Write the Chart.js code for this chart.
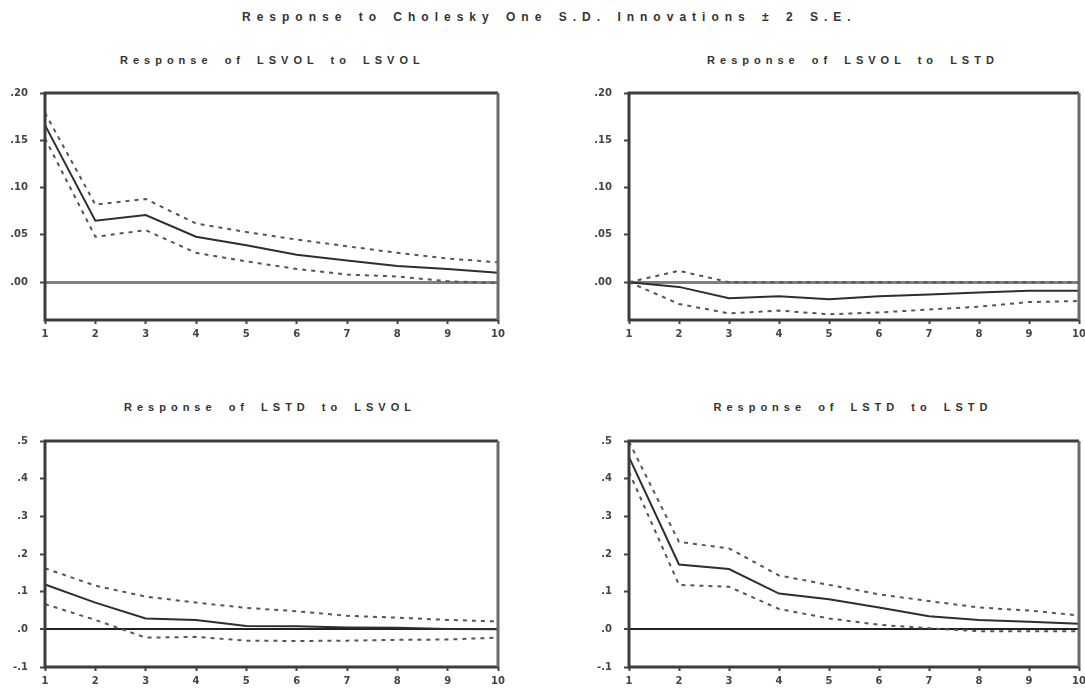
<!DOCTYPE html>
<html>
<head>
<meta charset="utf-8">
<script src="https://cdn.jsdelivr.net/npm/chart.js@4.4.0/dist/chart.umd.min.js"></script>
<style>
    body { margin: 0; background: #fff; width: 1085px; height: 689px; overflow: hidden; position: relative; }
    .txt { position: absolute; font-family: 'Liberation Sans', Arial, sans-serif; font-weight: bold; color: #333; text-align: center; white-space: nowrap; }
    .main-title { font-size: 12px; letter-spacing: 6px; word-spacing: 2px; }
    .sub-title { font-size: 11px; letter-spacing: 5px; word-spacing: 4px; }
    canvas { position: absolute; }
</style>
</head>
<body>
<div class="txt main-title" style="left:242px; width:600px; top:10px;">Response to Cholesky One S.D. Innovations ± 2 S.E.</div>
<div class="txt sub-title" style="left:120px; width:300px; top:54px;">Response of LSVOL to LSVOL</div>
<div class="txt sub-title" style="left:703px; width:300px; top:54px;">Response of LSVOL to LSTD</div>
<div class="txt sub-title" style="left:120px; width:300px; top:401px;">Response of LSTD to LSVOL</div>
<div class="txt sub-title" style="left:703px; width:300px; top:401px;">Response of LSTD to LSTD</div>

<canvas id="p1" width="510" height="275" style="left:0px; top:75px;"></canvas>
<canvas id="p2" width="507" height="275" style="left:584px; top:75px;"></canvas>
<canvas id="p3" width="510" height="274" style="left:0px; top:423px;"></canvas>
<canvas id="p4" width="507" height="274" style="left:584px; top:423px;"></canvas>

<script>
// Periods after the shock
const periods = ['1', '2', '3', '4', '5', '6', '7', '8', '9', '10'];

// Response of LSVOL to LSVOL
const volVolResp  = [0.166, 0.065, 0.071, 0.048, 0.039, 0.029, 0.023, 0.017, 0.014, 0.010];
const volVolUpper = [0.179, 0.082, 0.088, 0.062, 0.053, 0.045, 0.038, 0.031, 0.025, 0.021];
const volVolLower = [0.152, 0.048, 0.055, 0.031, 0.022, 0.014, 0.008, 0.006, 0.001, -0.001];

// Response of LSVOL to LSTD
const volStdResp  = [0.000, -0.005, -0.017, -0.015, -0.018, -0.015, -0.013, -0.011, -0.009, -0.009];
const volStdUpper = [0.000, 0.012, 0.000, 0.000, 0.000, 0.000, 0.000, 0.000, 0.000, 0.000];
const volStdLower = [0.000, -0.023, -0.033, -0.030, -0.034, -0.032, -0.029, -0.026, -0.021, -0.020];

// Response of LSTD to LSVOL
const stdVolResp  = [0.119, 0.071, 0.029, 0.025, 0.009, 0.008, 0.005, 0.004, 0.001, 0.000];
const stdVolUpper = [0.162, 0.116, 0.087, 0.071, 0.057, 0.048, 0.036, 0.031, 0.025, 0.021];
const stdVolLower = [0.067, 0.025, -0.022, -0.020, -0.030, -0.031, -0.030, -0.028, -0.027, -0.022];

// Response of LSTD to LSTD
const stdStdResp  = [0.457, 0.172, 0.160, 0.095, 0.080, 0.058, 0.035, 0.025, 0.020, 0.015];
const stdStdUpper = [0.498, 0.232, 0.215, 0.143, 0.118, 0.093, 0.075, 0.058, 0.050, 0.037];
const stdStdLower = [0.418, 0.118, 0.113, 0.054, 0.029, 0.012, 0.003, -0.005, -0.005, -0.005];

const tickFont = { family: "'DejaVu Sans', sans-serif", size: 10, weight: 'bold' };

// box around the plot area, drawn on top like the eviews frame
const framePlugin = {
    id: 'frame',
    afterDraw(chart) {
        const { ctx, chartArea: a } = chart;
        ctx.save();
        ctx.lineWidth = 3;
        ctx.strokeStyle = '#3c3c3c';
        ctx.beginPath();
        ctx.moveTo(a.right, a.top);
        ctx.lineTo(a.left, a.top);
        ctx.lineTo(a.left, a.bottom);
        ctx.lineTo(a.right, a.bottom);
        ctx.stroke();
        ctx.strokeStyle = '#6a6a6a';
        ctx.beginPath();
        ctx.moveTo(a.right, a.top);
        ctx.lineTo(a.right, a.bottom);
        ctx.stroke();
        ctx.restore();
    }
};

function formatTick(value, digits) {
    if (Math.abs(value) < 1e-9) value = 0;
    return Number(value).toFixed(digits).replace(/^(-?)0\./, '$1.');
}

function makePanel(id, resp, upper, lower, yMin, yMax, yStep, digits, zeroColor, zeroWidth) {
    const band = {
        borderColor: '#555',
        borderWidth: 2,
        borderDash: [4, 5],
        pointRadius: 0,
        tension: 0,
        fill: false
    };
    new Chart(document.getElementById(id), {
        type: 'line',
        data: {
            labels: periods,
            datasets: [
                { ...band, data: upper },
                { ...band, data: lower },
                { data: resp, borderColor: '#2e2e2e', borderWidth: 2, pointRadius: 0, tension: 0, fill: false }
            ]
        },
        options: {
            responsive: false,
            animation: false,
            devicePixelRatio: 1,
            layout: { padding: { top: 8, right: 12, left: 0, bottom: 0 } },
            plugins: {
                legend: { display: false },
                tooltip: { enabled: false }
            },
            scales: {
                x: {
                    offset: false,
                    border: { display: false },
                    grid: { drawOnChartArea: false, tickLength: 4, tickColor: '#444', tickWidth: 2 },
                    ticks: { font: tickFont, color: '#444', padding: 4, maxRotation: 0, autoSkip: false },
                    afterFit: s => { s.height = 30; }
                },
                y: {
                    min: yMin,
                    max: yMax,
                    border: { display: false },
                    grid: {
                        color: c => Math.abs(c.tick.value) < 1e-9 ? zeroColor : 'rgba(0,0,0,0)',
                        lineWidth: c => Math.abs(c.tick.value) < 1e-9 ? zeroWidth : 1,
                        tickColor: '#444',
                        tickWidth: 2,
                        tickLength: 5
                    },
                    ticks: {
                        stepSize: yStep,
                        includeBounds: false,
                        font: tickFont,
                        color: '#444',
                        padding: 12,
                        callback: v => formatTick(v, digits)
                    },
                    afterFit: s => { s.width = 45; }
                }
            }
        },
        plugins: [framePlugin]
    });
}

document.addEventListener('DOMContentLoaded', function () {
    makePanel('p1', volVolResp, volVolUpper, volVolLower, -0.04, 0.20, 0.05, 2, '#808080', 3);
    makePanel('p2', volStdResp, volStdUpper, volStdLower, -0.04, 0.20, 0.05, 2, '#808080', 3);
    makePanel('p3', stdVolResp, stdVolUpper, stdVolLower, -0.1, 0.5, 0.1, 1, '#222', 2);
    makePanel('p4', stdStdResp, stdStdUpper, stdStdLower, -0.1, 0.5, 0.1, 1, '#222', 2);
});
</script>
</body>
</html>
